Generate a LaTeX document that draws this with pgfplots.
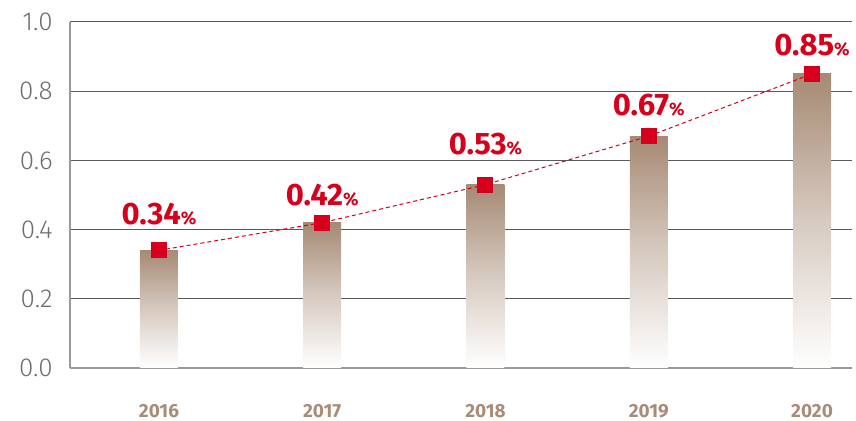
\documentclass[border=0pt]{standalone}
\usepackage{fontspec}
\setmainfont{Fira Sans}
\newfontfamily\lightfont{Fira Sans Light}
\usepackage{pgfplots}
\pgfplotsset{compat=1.18}
\pgfplotsset{layers/mylayers/.define layer set={axis background,main,axis grid,axis ticks,axis lines,axis tick labels,axis descriptions,axis foreground}{}}
\definecolor{vred}{HTML}{D6001C}
\definecolor{barbrown}{HTML}{A68A74}
\definecolor{yearbrown}{HTML}{A98C78}
\definecolor{tickgray}{HTML}{6E6E6E}
\definecolor{gridgray}{HTML}{5A5A5A}
\begin{document}
\begin{tikzpicture}
\begin{axis}[
  set layers=mylayers,
  scale only axis,
  width=391pt, height=173pt,
  xmin=-0.545, xmax=4.245,
  ymin=0, ymax=1,
  axis x line*=bottom,
  axis y line*=left,
  axis line style={draw=gray!80, line width=0.7pt},
  ytick={0,0.2,0.4,0.6,0.8,1.0},
  ymajorgrids,
  grid style={draw=gridgray, line width=0.5pt},
  ytick style={draw=none},
  xtick style={draw=none},
  xtick={0,1,2,3,4},
  xticklabels={2016,2017,2018,2019,2020},
  /pgf/number format/assume math mode=true,
  yticklabel={\pgfmathprintnumber[fixed,fixed zerofill,precision=1]{\tick}},
  yticklabel style={font=\lightfont\fontsize{13}{14}\selectfont, text=tickgray, anchor=east, inner sep=0pt, xshift=-8.5pt},
  xticklabel style={font=\bfseries\fontsize{9.5}{10}\selectfont, text=yearbrown, anchor=base, inner sep=0pt, yshift=-25pt},
  clip=false,
  barstyle/.style={ybar, bar width=19pt, bar shift=0pt, draw=none, top color=barbrown, bottom color=white, middle color=barbrown!45!white},
]
\addplot[barstyle] coordinates {(0,0.34)};
\addplot[barstyle] coordinates {(1,0.42)};
\addplot[barstyle] coordinates {(2,0.53)};
\addplot[barstyle] coordinates {(3,0.67)};
\addplot[barstyle] coordinates {(4,0.85)};
\addplot[on layer=axis foreground, vred, line width=0.5pt, dash pattern=on 2pt off 1.5pt, mark=square*, mark size=3.75pt, mark options={solid, fill=vred, draw=none}]
  coordinates {(0,0.34) (1,0.42) (2,0.53) (3,0.67) (4,0.85)};
\foreach \x/\yb/\v in {0/0.416/0.34, 1/0.471/0.42, 2/0.616/0.53, 3/0.731/0.67, 4/0.902/0.85}{
  \edef\temp{\noexpand\node[anchor=base, inner sep=0pt, text=vred, font=\noexpand\bfseries\noexpand\fontsize{15.5}{16}\noexpand\selectfont] at (axis cs:\x,\yb) {\v{\noexpand\fontsize{9}{10}\noexpand\selectfont\%}};}
  \temp
}
\end{axis}
\pgfresetboundingbox
\path ([shift={(-35pt,-26.5pt)}]current axis.south west) rectangle ([shift={(2pt,11pt)}]current axis.north east);
\end{tikzpicture}
\end{document}
